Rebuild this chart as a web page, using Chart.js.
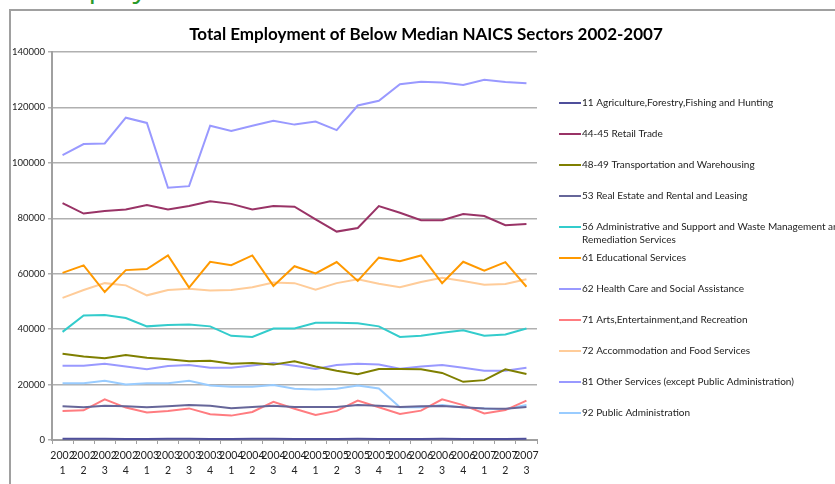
<!DOCTYPE html>
<html>
<head>
<meta charset="utf-8">
<script src="https://cdn.jsdelivr.net/npm/chart.js@4"></script>
<style>
  html, body { margin: 0; padding: 0; background: #fff; overflow: hidden; }
  #wrap { position: relative; width: 835px; height: 484px; overflow: hidden; }
  #frame { position: absolute; left: 9px; top: 9px; width: 900px; height: 500px;
           border-left: 2px solid #a0a0a0; border-top: 2px solid #a0a0a0; }
  #heading { position: absolute; left: 44px; top: -35px; font: 30px "Open Sans", sans-serif;
             color: #2a9a2a; white-space: nowrap; }
  canvas { position: absolute; left: 0; top: 0; }
</style>
</head>
<body>
<div id="wrap">
  <div id="heading">Employment</div>
  <div id="frame"></div>
  <canvas id="chart" width="835" height="484"></canvas>
</div>
<script>
// quarters 2002 Q1 .. 2007 Q3
const years = ['2002','2002','2002','2002','2003','2003','2003','2003','2004','2004','2004','2004',
               '2005','2005','2005','2005','2006','2006','2006','2006','2007','2007','2007'];
const quarters = ['1','2','3','4','1','2','3','4','1','2','3','4',
                  '1','2','3','4','1','2','3','4','1','2','3'];

const chartTitle = 'Total Employment of Below Median NAICS Sectors 2002-2007';

const sectorNames = [
    '11 Agriculture,Forestry,Fishing and Hunting',
    '44-45 Retail Trade',
    '48-49 Transportation and Warehousing',
    '53 Real Estate and Rental and Leasing',
    '56 Administrative and Support and Waste Management and Remediation Services',
    '61 Educational Services',
    '62 Health Care and Social Assistance',
    '71 Arts,Entertainment,and Recreation',
    '72 Accommodation and Food Services',
    '81 Other Services (except Public Administration)',
    '92 Public Administration'
];

const agriculture = [420, 430, 450, 400, 380, 410, 430, 400, 390, 410, 440, 400, 380, 400, 420, 390, 380, 400, 410, 390, 380, 400, 410];
const retail = [85500, 81700, 82600, 83200, 84800, 83200, 84400, 86100, 85200, 83200, 84400, 84200, 79600, 75200, 76500, 84400, 82000, 79300, 79300, 81500, 80800, 77500, 77900];
const transportation = [31100, 30100, 29500, 30700, 29700, 29100, 28400, 28600, 27500, 27800, 27200, 28400, 26500, 25000, 23700, 25600, 25600, 25500, 24200, 21000, 21600, 25500, 23800];
const realEstate = [12200, 11800, 12400, 12200, 11800, 12200, 12600, 12400, 11500, 11900, 12400, 11900, 11900, 11900, 12600, 12400, 11900, 12200, 12300, 11800, 11400, 11300, 11900];
const administrative = [39000, 44900, 45100, 44000, 41000, 41500, 41700, 41000, 37600, 37200, 40200, 40200, 42300, 42300, 42100, 41000, 37200, 37600, 38700, 39600, 37600, 38100, 40200];
const educational = [60300, 63000, 53400, 61300, 61700, 66600, 55000, 64300, 63100, 66600, 55600, 62700, 60100, 64200, 57400, 65800, 64500, 66600, 56600, 64300, 61100, 64200, 55300];
const healthCare = [102800, 106800, 107000, 116300, 114400, 91000, 91600, 113400, 111500, 113400, 115200, 113800, 114900, 111800, 120700, 122400, 128400, 129300, 129000, 128100, 130000, 129200, 128700];
const arts = [10500, 10700, 14700, 11700, 9900, 10500, 11400, 9300, 8800, 10100, 13800, 11300, 9000, 10500, 14200, 11800, 9400, 10600, 14700, 12600, 9600, 10800, 14200];
const accommodation = [51300, 54100, 56600, 55800, 52200, 54100, 54600, 53900, 54100, 55100, 56800, 56600, 54200, 56600, 58000, 56400, 55100, 57000, 58500, 57400, 56000, 56300, 58000];
const otherServices = [26800, 26800, 27500, 26500, 25500, 26700, 27100, 26100, 26100, 26900, 27800, 26800, 25600, 27100, 27500, 27200, 25700, 26500, 27100, 26100, 25000, 25000, 26100];
const publicAdmin = [20500, 20500, 21400, 20000, 20500, 20500, 21400, 19700, 19200, 19200, 19800, 18500, 18200, 18500, 19700, 18600, 11800, 11800, 12600, 11700, 11400, 11100, 12600];

const seriesValues = [agriculture, retail, transportation, realEstate, administrative, educational,
                      healthCare, arts, accommodation, otherServices, publicAdmin];
const seriesColors = ['#4f4f9b', '#993366', '#7f7f00', '#666699', '#33cccc', '#ff9900',
                      '#9999ff', '#ff7c80', '#ffcc99', '#9999ff', '#99ccff'];

const labels = years.map((y, i) => [y, quarters[i]]);

// title and legend drawn Excel style (title centred on the whole box, legend on the right)
const sideLegend = {
    id: 'sideLegend',
    afterDraw(chart) {
        const ctx = chart.ctx;
        ctx.save();
        ctx.font = 'bold 17px Lato';
        ctx.fillStyle = '#000';
        ctx.textAlign = 'center';
        ctx.textBaseline = 'middle';
        ctx.fillText(chartTitle, 426, 35);

        ctx.textAlign = 'left';
        ctx.font = '10px Lato';
        ctx.fillStyle = '#222';
        chart.data.datasets.forEach((ds, i) => {
            const y = 103 + i * 31;
            ctx.strokeStyle = ds.borderColor;
            ctx.lineWidth = 2;
            ctx.beginPath();
            ctx.moveTo(559, y);
            ctx.lineTo(581, y);
            ctx.stroke();
            // wrap long names
            const words = ds.label.split(' ');
            let line = '', lines = [];
            words.forEach(w => {
                const t = line ? line + ' ' + w : w;
                if (ctx.measureText(t).width > 270 && line) { lines.push(line); line = w; }
                else line = t;
            });
            lines.push(line);
            lines.forEach((l, k) => ctx.fillText(l, 582, y + k * 13));
        });
        ctx.restore();
    }
};

new Chart(document.getElementById('chart'), {
    type: 'line',
    data: {
        labels: labels,
        datasets: sectorNames.map((name, i) => ({
            label: name,
            data: seriesValues[i],
            borderColor: seriesColors[i],
            backgroundColor: seriesColors[i],
            borderWidth: 2,
            pointRadius: 0,
            tension: 0,
            fill: false
        }))
    },
    options: {
        responsive: false,
        animation: false,
        layout: { padding: { left: 10, right: 298, top: 52, bottom: 0 } },
        plugins: {
            legend: { display: false },
            tooltip: { enabled: false },
            title: { display: false }
        },
        scales: {
            x: {
                offset: true,
                grid: { offset: true, drawOnChartArea: false, drawTicks: true, tickLength: 4, color: '#a0a0a0' },
                border: { color: '#a0a0a0', width: 2 },
                ticks: {
                    autoSkip: false, maxRotation: 0, minRotation: 0, padding: 4,
                    color: '#222', font: { family: 'Lato', size: 10.5, lineHeight: 1.45 }
                },
                afterFit(scale) { scale.height = 44; }
            },
            y: {
                min: 0, max: 140000,
                grid: { color: '#b0b0b0', lineWidth: 1.5, tickLength: 4 },
                border: { color: '#a0a0a0', width: 2 },
                ticks: {
                    stepSize: 20000, padding: 3,
                    color: '#222', font: { family: 'Lato', size: 9.5 },
                    callback: v => String(v)
                },
                afterFit(scale) { scale.width = 42; }
            }
        }
    },
    plugins: [sideLegend]
});
</script>
</body>
</html>
